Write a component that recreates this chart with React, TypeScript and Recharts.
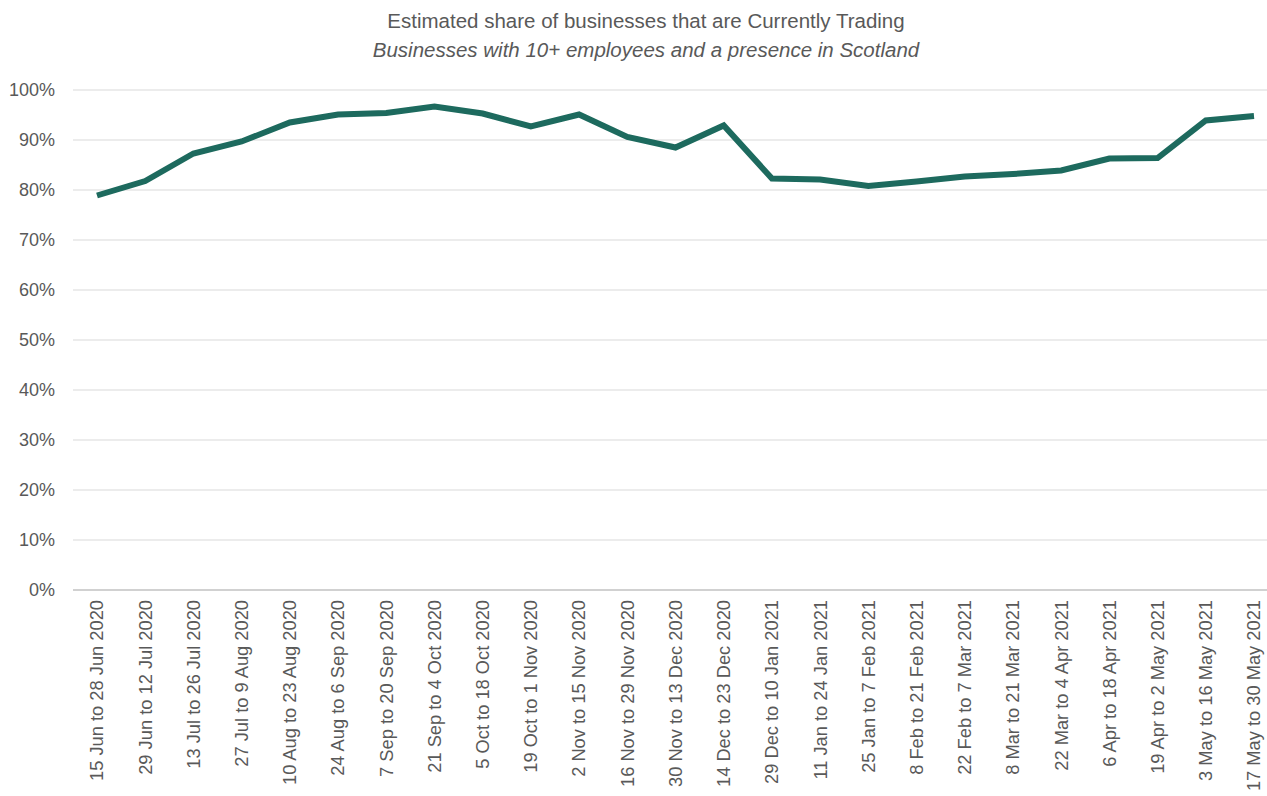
import React from "react";
import { LineChart, Line, XAxis, YAxis, CartesianGrid } from "recharts";

const categories = [
  "15 Jun to 28 Jun 2020",
  "29 Jun to 12 Jul 2020",
  "13 Jul to 26 Jul 2020",
  "27 Jul to 9 Aug 2020",
  "10 Aug to 23 Aug 2020",
  "24 Aug to 6 Sep 2020",
  "7 Sep to 20 Sep 2020",
  "21 Sep to 4 Oct 2020",
  "5 Oct to 18 Oct 2020",
  "19 Oct to 1 Nov 2020",
  "2 Nov to 15 Nov 2020",
  "16 Nov to 29 Nov 2020",
  "30 Nov to 13 Dec 2020",
  "14 Dec to 23 Dec 2020",
  "29 Dec to 10 Jan 2021",
  "11 Jan to 24 Jan 2021",
  "25 Jan to 7 Feb 2021",
  "8 Feb to 21 Feb 2021",
  "22 Feb to 7 Mar 2021",
  "8 Mar to 21 Mar 2021",
  "22 Mar to 4 Apr 2021",
  "6 Apr to 18 Apr 2021",
  "19 Apr to 2 May 2021",
  "3 May to 16 May 2021",
  "17 May to 30 May 2021",
];

const currentlyTrading = [
  0.789, 0.818, 0.873, 0.897, 0.935, 0.951, 0.954, 0.967, 0.953, 0.927,
  0.951, 0.906, 0.885, 0.929, 0.823, 0.821, 0.808, 0.817, 0.827, 0.832,
  0.839, 0.863, 0.864, 0.939, 0.948,
];

const yTicks = [0, 0.1, 0.2, 0.3, 0.4, 0.5, 0.6, 0.7, 0.8, 0.9, 1.0];

const titleText = "Estimated share of businesses that are Currently Trading";
const subtitleText = "Businesses with 10+ employees and a presence in Scotland";

const data = categories.map((c, i) => ({ name: c, value: currentlyTrading[i] }));

const FONT = "'Liberation Sans', Arial, sans-serif";

const XTick = (props: any) => {
  const { x, y, payload } = props;
  return (
    <text
      x={x}
      y={y}
      transform={`rotate(-90, ${x}, ${y})`}
      textAnchor="end"
      dy="0.35em"
      fill="#595959"
      fontSize={18.3}
      fontFamily={FONT}
    >
      {payload.value}
    </text>
  );
};

export default function App() {
  return (
    <div
      style={{
        position: "absolute",
        left: 0,
        top: 0,
        width: 1267,
        height: 796,
        overflow: "hidden",
        background: "#fff",
      }}
    >
      <div
        style={{
          position: "absolute",
          left: 0,
          width: 1292,
          top: 6,
          textAlign: "center",
          fontFamily: FONT,
          color: "#595959",
          fontSize: 20.5,
          lineHeight: "29px",
        }}
      >
        <div>{titleText}</div>
        <div style={{ fontStyle: "italic" }}>{subtitleText}</div>
      </div>
      <div style={{ position: "absolute", left: 0, top: 0 }}>
        <LineChart
          width={1267}
          height={796}
          data={data}
          margin={{ top: 90, right: 0, bottom: 0, left: 0 }}
        >
          <CartesianGrid vertical={false} stroke="#e6e6e6" strokeWidth={1.5} />
          <XAxis
            dataKey="name"
            interval={0}
            height={206}
            padding={{ left: 24, right: 13 }}
            tickLine={false}
            axisLine={{ stroke: "#c8c8c8", strokeWidth: 1.5 }}
            tick={<XTick />}
            tickMargin={4}
          />
          <YAxis
            domain={[0, 1]}
            ticks={yTicks}
            width={73}
            tickLine={false}
            axisLine={false}
            tickMargin={12}
            tickFormatter={(v: number) => `${Math.round(v * 100)}%`}
            tick={{ fill: "#595959", fontSize: 18, fontFamily: FONT }}
          />
          <Line
            type="linear"
            dataKey="value"
            stroke="#1d6a5e"
            strokeWidth={6}
            dot={false}
            isAnimationActive={false}
          />
        </LineChart>
      </div>
    </div>
  );
}
